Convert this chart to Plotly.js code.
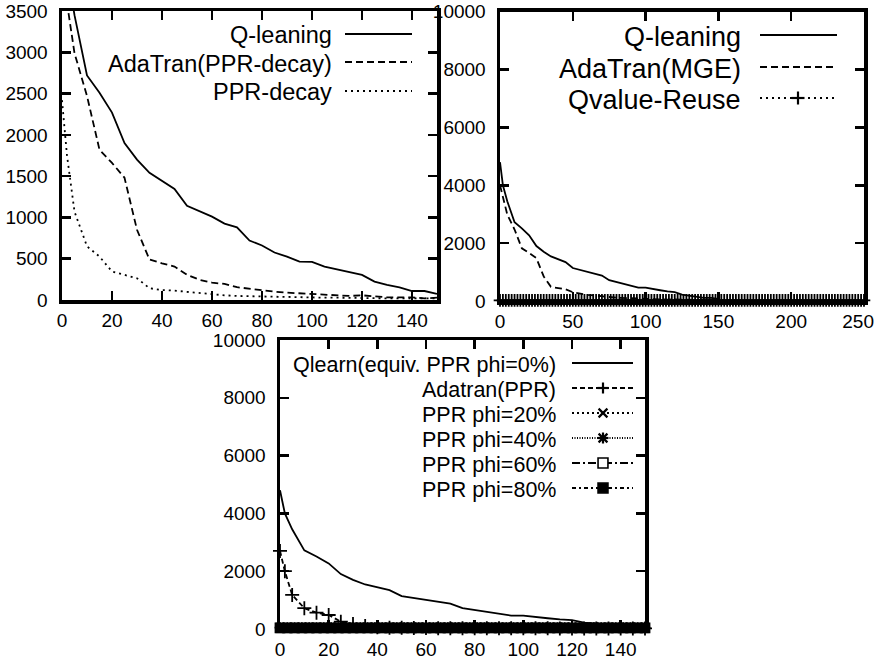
<!DOCTYPE html>
<html><head><meta charset="utf-8">
<script src="https://cdn.plot.ly/plotly-3.0.1.min.js"></script>
<style>html,body{margin:0;padding:0;background:#fff}#chart{width:876px;height:662px}</style>
</head><body><div id="chart"></div>
<script>
// ---------- data ----------
// Q-learning (same curve appears in all three panels)
const qX = [0,2,5,10,15,20,25,30,35,40,45,50,55,60,65,70,75,80,85,90,95,100,105,110,115,120,125,130,135,140,145,150];
const qY = [4800,4000,3450,2720,2510,2270,1900,1700,1540,1440,1345,1140,1075,1010,925,880,720,660,575,525,465,462,405,372,332,304,223,182,154,109,109,73];
// AdaTran (PPR-decay) / AdaTran (MGE)
const adaX = [0,5,10,15,20,25,30,35,40,45,50,55,60,65,70,75,80,85,90,95,100,105,110,115,120,125,130,135,140,145,150];
const adaY = [4000,2990,2470,1820,1660,1480,850,490,445,405,305,245,210,195,155,138,113,101,89,81,81,65,57,49,57,40,32,32,32,20,28];
// PPR-decay
const pdX = [0,2,5,10,15,20,25,30,35,40,45,50,55,60,65,70,75,80,85,90,95,100,105,110,115,120,125,130,135,140,145,150];
const pdY = [2420,1750,1070,650,526,345,304,263,142,121,113,97,81,73,57,49,45,40,36,32,32,28,28,28,24,24,24,20,20,20,20,20];
// Qvalue-Reuse (flat at ~0)
const qrX = [0,2,4,6,8,10,12,14,16,18,
  20,22,24,26,28,30,32,34,36,38,
  40,42,44,46,48,50,52,54,56,58,
  60,62,64,66,68,70,72,74,76,78,
  80,82,84,86,88,90,92,94,96,98,
  100,102,104,106,108,110,112,114,116,118,
  120,122,124,126,128,130,132,134,136,138,
  140,142,144,146,148,150,152,154,156,158,
  160,162,164,166,168,170,172,174,176,178,
  180,182,184,186,188,190,192,194,196,198,
  200,202,204,206,208,210,212,214,216,218,
  220,222,224,226,228,230,232,234,236,238,
  240,242,244,246,248,250];
const qrY = [20,20,20,20,20,20,20,20,20,20,
  20,20,20,20,20,20,20,20,20,20,
  20,20,20,20,20,20,20,20,20,20,
  20,20,20,20,20,20,20,20,20,20,
  20,20,20,20,20,20,20,20,20,20,
  20,20,20,20,20,20,20,20,20,20,
  20,20,20,20,20,20,20,20,20,20,
  20,20,20,20,20,20,20,20,20,20,
  20,20,20,20,20,20,20,20,20,20,
  20,20,20,20,20,20,20,20,20,20,
  20,20,20,20,20,20,20,20,20,20,
  20,20,20,20,20,20,20,20,20,20,
  20,20,20,20,20,20];
// Adatran(PPR)
const apX = [0,2,5,10,15,20,25,30,35,40,45,50,55,60,65,70,75,80,85,90,95,100,105,110,115,120,125,130,135,140,145,150];
const apY = [2700,2000,1180,720,565,485,255,175,100,60,45,40,35,35,30,30,30,30,25,25,25,25,25,25,20,20,20,20,20,20,20,20];
// PPR phi = 20/40/60/80 % (all flat near 0)
const phiX = [0,3,6,9,12,15,18,21,24,27,
  30,33,36,39,42,45,48,51,54,57,
  60,63,66,69,72,75,78,81,84,87,
  90,93,96,99,102,105,108,111,114,117,
  120,123,126,129,132,135,138,141,144,147,
  150];
const phi20Y = [60,60,60,60,60,60,60,60,60,60,
  60,60,60,60,60,60,60,60,60,60,
  60,60,60,60,60,60,60,60,60,60,
  60,60,60,60,60,60,60,60,60,60,
  60,60,60,60,60,60,60,60,60,60,
  60];
const phi40Y = [50,50,50,50,50,50,50,50,50,50,
  50,50,50,50,50,50,50,50,50,50,
  50,50,50,50,50,50,50,50,50,50,
  50,50,50,50,50,50,50,50,50,50,
  50,50,50,50,50,50,50,50,50,50,
  50];
const phi60Y = [40,40,40,40,40,40,40,40,40,40,
  40,40,40,40,40,40,40,40,40,40,
  40,40,40,40,40,40,40,40,40,40,
  40,40,40,40,40,40,40,40,40,40,
  40,40,40,40,40,40,40,40,40,40,
  40];
const phi80Y = [30,30,30,30,30,30,30,30,30,30,
  30,30,30,30,30,30,30,30,30,30,
  30,30,30,30,30,30,30,30,30,30,
  30,30,30,30,30,30,30,30,30,30,
  30,30,30,30,30,30,30,30,30,30,
  30];

const names1 = ['Q-leaning','AdaTran(PPR-decay)','PPR-decay'];
const names2 = ['Q-leaning','AdaTran(MGE)','Qvalue-Reuse'];
const names3 = ['Qlearn(equiv. PPR phi=0%)','Adatran(PPR)','PPR phi=20%','PPR phi=40%','PPR phi=60%','PPR phi=80%'];
const x2Ticks = [0,50,100,150,200,250];
const x2Labels = ['0','50','100','150','200','250'];

// ---------- styles ----------
const W = 876, H = 662;
const FONT = 'Liberation Sans, Arial, Helvetica, sans-serif';
const K = '#000';
const DASH = '7px,4px', DOT = '2px,4px';

function tr(x, y, xa, ya, dash, extra) {
  return Object.assign({x: x, y: y, xaxis: xa, yaxis: ya, type: 'scatter', mode: 'lines',
    line: {color: K, width: 1.8, dash: dash}, hoverinfo: 'skip'}, extra || {});
}
function mk(symbol, size) {
  return {symbol: symbol, size: size, color: K, line: {color: K, width: 1.8}};
}

const data = [
  tr(qX, qY, 'x', 'y', 'solid'),
  tr(adaX, adaY, 'x', 'y', DASH),
  tr(pdX, pdY, 'x', 'y', DOT),

  tr(qX, qY, 'x2', 'y2', 'solid'),
  tr(adaX, adaY, 'x2', 'y2', DASH),
  tr(qrX, qrY, 'x2', 'y2', DOT, {mode: 'lines+markers', marker: mk('cross-thin', 9), cliponaxis: false}),

  tr(qX, qY, 'x3', 'y3', 'solid'),
  tr(apX, apY, 'x3', 'y3', '5px,3px', {mode: 'lines+markers', marker: mk('cross-thin', 10), cliponaxis: false}),
  tr(phiX, phi20Y, 'x3', 'y3', '2px,3px', {mode: 'lines+markers', marker: mk('x-thin', 9), cliponaxis: false}),
  tr(phiX, phi40Y, 'x3', 'y3', '1px,1.5px', {mode: 'lines+markers', marker: mk('asterisk', 9), cliponaxis: false}),
  tr(phiX, phi60Y, 'x3', 'y3', '8px,3px,2px,3px', {mode: 'lines+markers', marker: {symbol: 'square', size: 9, color: '#fff', line: {color: K, width: 1.8}}, cliponaxis: false}),
  tr(phiX, phi80Y, 'x3', 'y3', '4px,3px,2px,3px', {mode: 'lines+markers', marker: {symbol: 'square', size: 9, color: K, line: {color: K, width: 1}}, cliponaxis: false})
];

function ax(domain, range, dtick, standoff) {
  return {domain: domain, range: range, dtick: dtick, tick0: 0, showline: true, linecolor: K, linewidth: 3.5,
    mirror: 'ticks', ticks: 'inside', ticklen: 9, tickwidth: 2.5, tickcolor: K, tickformat: 'd',
    showgrid: false, zeroline: false, fixedrange: true, ticklabelstandoff: standoff, ticklabeloverflow: 'allow',
    tickfont: {family: FONT, size: 19, color: K}};
}
const px = v => v / W, py = v => 1 - v / H;

// legend helpers
const shapes = [], annotations = [];
function seg(x0, y0, x1, y1, dash, w) {
  shapes.push({type: 'line', xref: 'paper', yref: 'paper', x0: px(x0), y0: py(y0), x1: px(x1), y1: py(y1),
    line: {color: K, width: w || 2, dash: dash || 'solid'}});
}
function rect(cx, cy, r, fill) {
  shapes.push({type: 'rect', xref: 'paper', yref: 'paper', x0: px(cx - r), x1: px(cx + r), y0: py(cy + r), y1: py(cy - r),
    fillcolor: fill, line: {color: K, width: 1.6}});
}
function glyph(kind, cx, cy, r) {
  if (kind === 'plus' || kind === 'ast') { seg(cx - r, cy, cx + r, cy, 'solid', 2.2); seg(cx, cy - r, cx, cy + r, 'solid', 2.2); }
  if (kind === 'x' || kind === 'ast') { seg(cx - r * 0.8, cy - r * 0.8, cx + r * 0.8, cy + r * 0.8, 'solid', 2.2); seg(cx - r * 0.8, cy + r * 0.8, cx + r * 0.8, cy - r * 0.8, 'solid', 2.2); }
  if (kind === 'sqo') rect(cx, cy, r * 0.9, '#fff');
  if (kind === 'sqf') rect(cx, cy, r * 0.9, K);
}
function label(text, xr, cy, size) {
  annotations.push({text: text, xref: 'paper', yref: 'paper', x: px(xr), y: py(cy), xanchor: 'right', yanchor: 'middle',
    showarrow: false, borderpad: 0, font: {family: FONT, size: size, color: K}});
}

// panel 1 legend
const L1 = {xr: 333, s0: 345, s1: 412, rows: [34, 62, 91], size: 23.5, dashes: ['solid', DASH, DOT]};
names1.forEach((n, i) => { label(n, L1.xr, L1.rows[i] + 1.5, L1.size); seg(L1.s0, L1.rows[i], L1.s1, L1.rows[i], L1.dashes[i], 2); });
// panel 2 legend
const L2 = {xr: 742, s0: 760, s1: 837, rows: [35, 67, 98], size: 27, dashes: ['solid', DASH, DOT]};
names2.forEach((n, i) => { label(n, L2.xr, L2.rows[i] + 2, L2.size); seg(L2.s0, L2.rows[i], L2.s1, L2.rows[i], L2.dashes[i], 2); });
glyph('plus', 798, L2.rows[2], 6.5);
// panel 3 legend
const L3 = {xr: 557, s0: 572, s1: 633, mx: 603, rows: [363, 388, 413, 438, 463, 488], size: 21.5,
  dashes: ['solid', '5px,3px', '2px,3px', '1px,1.5px', '8px,3px,2px,3px', '4px,3px,2px,3px'],
  glyphs: [null, 'plus', 'x', 'ast', 'sqo', 'sqf']};
names3.forEach((n, i) => {
  label(n, L3.xr, L3.rows[i] + 1.5, L3.size);
  seg(L3.s0, L3.rows[i], L3.s1, L3.rows[i], L3.dashes[i], 2);
  if (L3.glyphs[i]) glyph(L3.glyphs[i], L3.mx, L3.rows[i], 5.5);
});

const layout = {
  width: W, height: H, margin: {l: 0, r: 0, t: 0, b: 0},
  paper_bgcolor: '#fff', plot_bgcolor: '#fff', showlegend: false,
  font: {family: FONT, color: K},
  xaxis: ax([px(62), px(437)], [0, 150], 20, 1),
  yaxis: ax([py(300), py(11)], [0, 3500], 500, 7),
  xaxis2: ax([px(500), px(864)], [0, 250], 50, 1),
  yaxis2: ax([py(301), py(11.7)], [0, 10000], 2000, 7),
  xaxis3: ax([px(280), px(645)], [0, 150], 20, 1),
  yaxis3: ax([py(629), py(340)], [0, 10000], 2000, 7),
  shapes: shapes, annotations: annotations
};
layout.xaxis2.tickmode = 'array';
layout.xaxis2.tickvals = x2Ticks;
layout.xaxis2.ticktext = x2Labels;
layout.xaxis.anchor = 'y'; layout.yaxis.anchor = 'x';
layout.xaxis2.anchor = 'y2'; layout.yaxis2.anchor = 'x2';
layout.xaxis3.anchor = 'y3'; layout.yaxis3.anchor = 'x3';

Plotly.newPlot('chart', data, layout, {displayModeBar: false, staticPlot: true}).then(function (gd) {
  // nudge the last top-right tick label inward so it stays inside the page, as in the reference
  const labels = gd.querySelectorAll('.xaxislayer-above .x2tick text');
  labels.forEach(function (t) {
    if (t.textContent === '250') {
      t.setAttribute('text-anchor', 'end');
      t.setAttribute('x', String(parseFloat(t.getAttribute('x') || 0) + 10));
    }
  });
});
</script></body></html>
